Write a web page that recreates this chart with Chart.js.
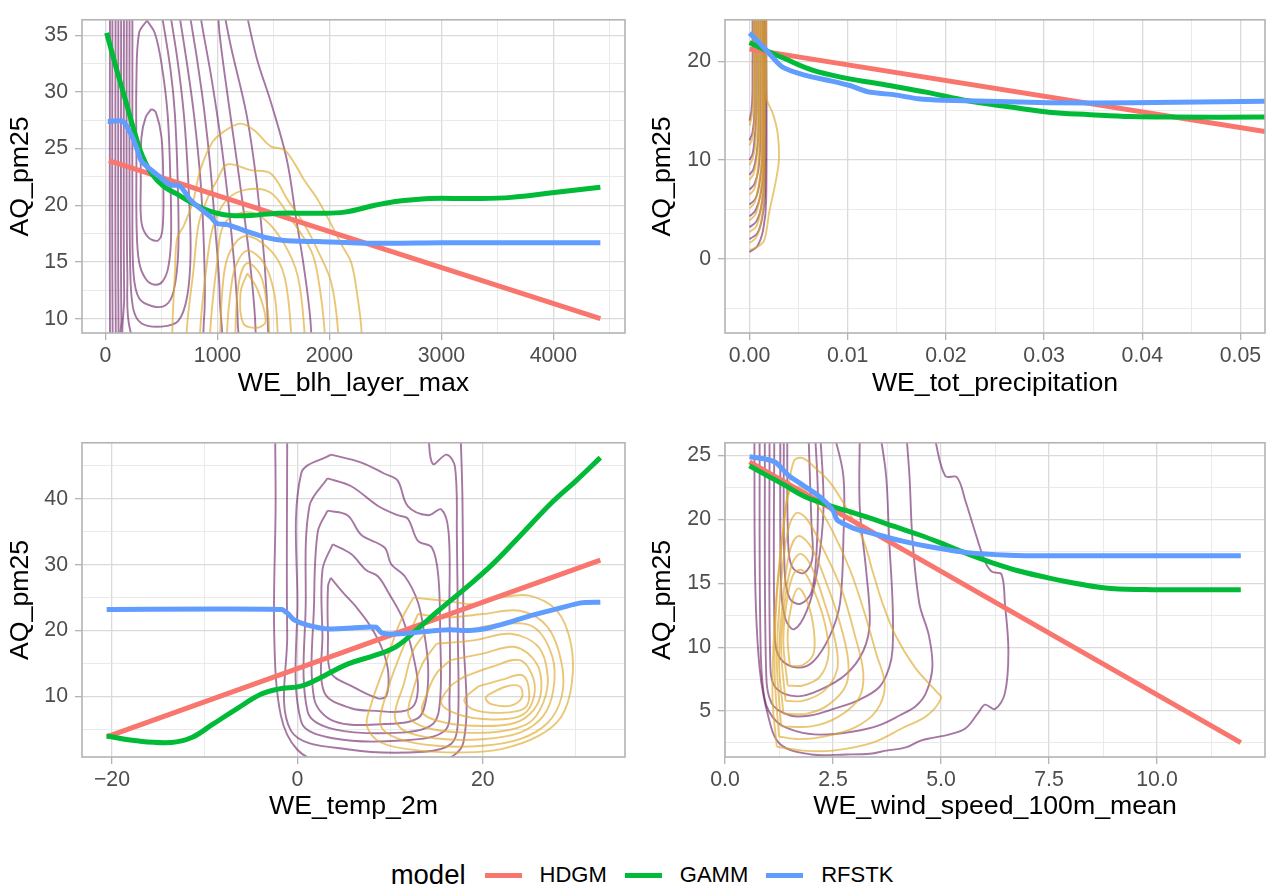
<!DOCTYPE html>
<html>
<head>
<meta charset="utf-8">
<script src="https://cdn.jsdelivr.net/npm/chart.js@4.4.1/dist/chart.umd.min.js"></script>
<style>
  body { margin: 0; background: #fff; width: 1284px; height: 892px; position: relative; overflow: hidden;
         font-family: "Liberation Sans", Arial, sans-serif; }
  .panel { position: absolute; }
  #legend { position: absolute; left: 0; top: 855px; width: 1284px; height: 40px;
            display: flex; justify-content: center; align-items: center; }
  #legend .ltitle { font-size: 27.5px; color: #000; margin-right: 19px; }
  #legend .key { width: 37px; height: 5px; display: inline-block; }
  #legend .lab { font-size: 22px; color: #000; margin: 0 18px 0 18px; }
</style>
</head>
<body>
<div class="panel" style="left:0;top:0"><canvas id="blh" width="642" height="420"></canvas></div>
<div class="panel" style="left:642px;top:0"><canvas id="precip" width="642" height="420"></canvas></div>
<div class="panel" style="left:0;top:423px"><canvas id="temp" width="642" height="420"></canvas></div>
<div class="panel" style="left:642px;top:423px"><canvas id="wind" width="642" height="420"></canvas></div>
<div id="legend">
  <span class="ltitle">model</span>
  <span class="key" style="background:#F8766D"></span><span class="lab">HDGM</span>
  <span class="key" style="background:#00BA38"></span><span class="lab">GAMM</span>
  <span class="key" style="background:#619CFF"></span><span class="lab" style="margin-right:0">RFSTK</span>
</div>
<script>
const FONT = '"Liberation Sans", Arial, sans-serif';
const PURPLE = "rgba(100, 20, 95, 0.58)";
const GOLD = "rgba(222, 168, 40, 0.64)";

// ---- panel 1: WE_blh_layer_max ----
const blhXTicks = [0, 1000, 2000, 3000, 4000];
const blhXMinor = [500, 1500, 2500, 3500, 4500];
const blhXLabels = ["0", "1000", "2000", "3000", "4000"];
const blhYTicks = [10, 15, 20, 25, 30, 35];
const blhYMinor = [12.5, 17.5, 22.5, 27.5, 32.5];
const blhYLabels = ["10", "15", "20", "25", "30", "35"];
const blhHDGM = [[30, 23.95], [4420, 10.0]];
const blhGAMM = [[10, 35.2], [96, 32.1], [186, 29], [276, 25.9], [336, 24.2], [411, 22.8], [516, 21.7], [636, 21],
  [756, 20.3], [876, 19.7], [996, 19.3], [1116, 19.1], [1296, 19.1], [1536, 19.3], [1896, 19.3], [2136, 19.4],
  [2406, 20], [2566, 20.3], [2894, 20.6], [3259, 20.6], [3624, 20.7], [3989, 21.1], [4420, 21.6]];
const blhRFSTK = [[20, 27.4], [156, 27.4], [246, 25.9], [276, 25.1], [321, 23.9], [396, 23.2], [486, 22.5],
  [576, 21.8], [666, 21.7], [756, 20.5], [846, 19.7], [936, 19.0], [996, 18.4], [1086, 18.3], [1176, 18.0],
  [1296, 17.6], [1416, 17.2], [1596, 16.9], [1896, 16.8], [2376, 16.65], [3000, 16.7], [4420, 16.7]];
const blhPurple = [
  [[411, 28.5], [360, 27.8], [321, 26], [315, 22], [321, 18.5], [380, 17.2], [470, 16.9], [510, 18], [516, 22], [500, 26], [450, 28.2], [411, 28.5]],
  [[370, 36.3], [300, 35.2], [276, 31], [276, 24], [278, 18], [300, 15], [360, 13.5], [440, 13], [510, 13.3], [560, 14.5], [585, 17], [580, 22], [555, 28], [500, 32.5], [440, 35.2], [370, 36.3]],
  [[240, 38], [240, 30], [240, 20], [250, 14], [300, 11.8], [420, 11.1], [540, 11.2], [610, 12.5], [650, 16], [645, 22], [620, 28], [580, 32], [492, 37.5]],
  [[215, 38], [214, 25], [220, 15], [245, 11], [320, 9.6], [500, 9.3], [650, 9.8], [730, 12], [760, 16], [740, 22], [700, 28], [640, 33], [560, 38]],
  [[190, 38], [188, 25], [195, 14], [220, 9], [400, 6], [800, 6], [880, 10], [880, 16], [850, 22], [790, 28], [720, 33], [640, 38]],
  [[165, 38], [163, 25], [167, 12], [190, 7], [600, 4], [1000, 5], [1020, 12], [980, 18], [930, 24], [860, 30], [760, 36.4], [720, 38]],
  [[140, 38], [138, 20], [142, 10], [160, 6], [700, 3], [1150, 4], [1180, 10], [1120, 18], [1040, 25], [950, 31], [860, 36], [830, 38]],
  [[115, 38], [113, 20], [117, 8], [130, 5], [800, 2], [1320, 4], [1340, 9], [1290, 15], [1200, 22], [1100, 29], [1020, 35], [1000, 38]],
  [[90, 38], [88, 20], [92, 8], [100, 4], [900, 1], [1450, 4], [1452, 9], [1420, 15], [1350, 22], [1260, 28], [1120, 34], [1040, 38]],
  [[62, 38], [60, 20], [64, 8], [70, 3], [1000, 0], [1830, 4], [1836, 9], [1780, 14], [1700, 19], [1620, 24], [1480, 29], [1350, 33], [1236, 38]],
  [[40, 38], [38, 20], [40, 8], [45, 2], [60, 0]]
];
const blhGold = [
  [[1266, 14], [1356, 12.6], [1431, 9.8], [1356, 9.2], [1230, 9.6], [1206, 12.3], [1266, 14]],
  [[1161, 5], [1161, 9], [1191, 13.2], [1266, 14.9], [1386, 13.8], [1446, 10.9], [1461, 9], [1465, 5]],
  [[1086, 5], [1086, 9], [1116, 12.3], [1161, 14.6], [1266, 16], [1416, 14.9], [1506, 12.3], [1536, 9], [1540, 5]],
  [[1026, 5], [1026, 9], [1056, 13.8], [1116, 16], [1251, 17.3], [1476, 16], [1596, 13.8], [1656, 9], [1660, 5]],
  [[936, 5], [936, 9], [996, 14.9], [1056, 18.3], [1236, 19.4], [1416, 18.8], [1596, 16.6], [1716, 13.8], [1776, 9], [1780, 5]],
  [[846, 5], [846, 9], [906, 14.9], [966, 18.3], [1086, 20.5], [1266, 21.4], [1476, 21.1], [1656, 18.8], [1836, 16], [1896, 13.8], [1956, 9], [1960, 5]],
  [[726, 5], [726, 9], [786, 14.3], [831, 18.3], [906, 20.5], [996, 22.2], [1086, 23.6], [1296, 23.1], [1476, 22.8], [1626, 20.5], [1776, 18.3], [1896, 16], [2016, 13.2], [2076, 9], [2080, 5]],
  [[590, 5], [600, 10], [620, 14], [640, 17.1], [700, 18.2], [786, 20.5], [846, 23.1], [950, 25.5], [1056, 26.5], [1206, 27.2], [1330, 26.6], [1476, 25.2], [1596, 24.9], [1700, 23.5], [1776, 22.2], [1896, 20.5], [2016, 18.3], [2110, 16.5], [2196, 14.9], [2250, 12], [2286, 9], [2290, 5]]
];

// ---- panel 2: WE_tot_precipitation ----
const precipXTicks = [0, 0.01, 0.02, 0.03, 0.04, 0.05];
const precipXMinor = [0.005, 0.015, 0.025, 0.035, 0.045];
const precipXLabels = ["0.00", "0.01", "0.02", "0.03", "0.04", "0.05"];
const precipYTicks = [0, 10, 20];
const precipYMinor = [-5, 5, 15];
const precipYLabels = ["0", "10", "20"];
const precipHDGM = [[0, 21.23], [0.0525, 12.9]];
const precipGAMM = [[0, 21.9], [0.00145, 21.2], [0.0035, 20.3], [0.0064, 19.1], [0.0098, 18.3], [0.0139, 17.6],
  [0.0181, 16.85], [0.0222, 16.0], [0.0264, 15.4], [0.0305, 14.85], [0.0347, 14.6], [0.0389, 14.4], [0.043, 14.35], [0.0525, 14.35]];
const precipRFSTK = [[0, 22.86], [0.00145, 21.4], [0.0033, 19.45], [0.0056, 18.6], [0.0081, 18.05], [0.0102, 17.55],
  [0.0121, 16.9], [0.0148, 16.6], [0.0172, 16.2], [0.0197, 16.05], [0.0243, 15.95], [0.0305, 15.8], [0.0389, 15.8], [0.0525, 15.95]];
const precipPurple = [
  [[0, 0.7], [0.0008, 1.3], [0.0014, 3], [0.0017, 6], [0.0017, 26]],
  [[0, 2.0], [0.0008, 2.6], [0.0013, 4.2], [0.0016, 7], [0.0016, 26]],
  [[0, 3.2], [0.0007, 3.8], [0.0012, 5.3], [0.0015, 8], [0.0015, 26]],
  [[0, 4.3], [0.0006, 4.9], [0.0011, 6.4], [0.0014, 9], [0.0014, 26]],
  [[0, 5.5], [0.0006, 6.1], [0.001, 7.6], [0.0013, 10.5], [0.0013, 26]],
  [[0, 7], [0.0005, 7.6], [0.0009, 9], [0.0011, 12], [0.0011, 26]],
  [[0, 8.5], [0.0004, 9.1], [0.0007, 10.5], [0.0009, 13], [0.0009, 26]],
  [[0, 10], [0.0003, 10.6], [0.0005, 12], [0.0007, 15], [0.0007, 26]],
  [[0, 12], [0.0003, 12.8], [0.0005, 15], [0.0005, 26]],
  [[0, 14], [0.0002, 15], [0.0003, 17], [0.0003, 26]]
];
const precipGold = [
  [[0, 0.9], [0.0008, 1.2], [0.0015, 1.9], [0.002, 4.7], [0.0027, 8], [0.003, 10.2], [0.00285, 12.8], [0.00234, 14.8], [0.0018, 16], [0.0017, 18], [0.0017, 26]],
  [[0, 1.6], [0.0007, 2.2], [0.0012, 3.8], [0.0015, 7], [0.0016, 26]],
  [[0, 2.7], [0.0007, 3.3], [0.0011, 4.8], [0.0014, 8], [0.00145, 26]],
  [[0, 3.9], [0.0006, 4.5], [0.001, 6], [0.0013, 9], [0.00135, 26]],
  [[0, 5.1], [0.0005, 5.7], [0.0009, 7.2], [0.0012, 10], [0.0012, 26]],
  [[0, 6.5], [0.0005, 7.1], [0.0008, 8.6], [0.001, 11.5], [0.00105, 26]],
  [[0, 8], [0.0004, 8.6], [0.0007, 10], [0.0009, 13], [0.0009, 26]],
  [[0, 9.5], [0.0003, 10.1], [0.0006, 11.5], [0.0007, 14], [0.00075, 26]],
  [[0, 11.5], [0.0003, 12.2], [0.0005, 14], [0.0006, 26]],
  [[0, 13.5], [0.0002, 14.3], [0.0004, 16], [0.0004, 26]]
];

// ---- panel 3: WE_temp_2m ----
const tempXTicks = [-20, 0, 20];
const tempXMinor = [-10, 10, 30];
const tempXLabels = ["\u221220", "0", "20"];
const tempYTicks = [10, 20, 30, 40];
const tempYMinor = [5, 15, 25, 35, 45];
const tempYLabels = ["10", "20", "30", "40"];
const tempHDGM = [[-20.57, 3.85], [32.67, 30.7]];
const tempGAMM = [[-20.57, 4.0], [-17.6, 3.3], [-13.6, 3.0], [-11.4, 3.75], [-9.2, 5.7], [-6.5, 8.15], [-3.9, 10.35],
  [-2.1, 11.1], [0.5, 11.6], [2.7, 13.0], [5.4, 14.9], [8.5, 16.3], [10.7, 17.6], [13, 20.3], [15.2, 23.0],
  [18.1, 26.4], [21, 30], [23.9, 34.2], [27.5, 39.5], [30.1, 42.8], [32.67, 46.25]];
const tempRFSTK = [[-20.57, 23.2], [-1.7, 23.2], [-1, 22.55], [-0.35, 21.6], [1, 20.85], [3.2, 20.25], [5.4, 20.35],
  [8.5, 20.5], [9.1, 19.6], [11.1, 19.5], [14.2, 19.9], [16.4, 20.1], [18.6, 20.0], [20.4, 20.3], [23, 21.3],
  [25.25, 22.3], [28.3, 23.4], [30.55, 24.2], [32.67, 24.3]];
const tempPurple = [
  [[3.6, 28], [4.9, 25.8], [6.5, 23.3], [8, 20.4], [9.2, 17], [9.8, 13.6], [9.6, 10.1], [8.7, 9.7], [5.8, 11.6], [3.6, 13.6], [3.3, 19.4], [3.3, 26.7], [3.6, 28]],
  [[3.8, 33.1], [5.8, 31.6], [7.4, 29.2], [8.7, 28.2], [9.8, 25.8], [11.2, 22.3], [11.9, 19.4], [12.6, 15.5], [13, 11.6], [12.6, 8.7], [11.2, 7.7], [8.5, 7.8], [5.8, 8.2], [2.9, 10.6], [2.7, 19.4], [2.7, 29.2], [3.8, 33.1]],
  [[3.25, 38.2], [5.4, 37.5], [6.9, 34.5], [9.4, 32.6], [10.1, 30.1], [11.6, 28.2], [13, 24.3], [13.7, 19.4], [14.1, 14.5], [13.9, 9.7], [13, 6.7], [9.4, 5.8], [4, 6.2], [1.8, 9.7], [1.8, 24.3], [2.2, 35], [3.25, 38.2]],
  [[3.25, 43.1], [5.8, 41.9], [8.7, 38.9], [10.8, 37.5], [11.9, 37], [13, 33.6], [14.5, 32.6], [15.2, 28.2], [15.4, 19.4], [15.4, 9.7], [14.6, 5.8], [11.2, 4.5], [4, 5], [1.1, 7.7], [0.9, 24.3], [1.3, 38.9], [3.25, 43.1]],
  [[3.6, 46.7], [6.9, 45.5], [9.4, 43.8], [10.8, 42.8], [11.9, 38.9], [14.1, 37.5], [15.5, 38.4], [16.3, 35], [16.4, 24.3], [16.4, 9.7], [15.9, 4.8], [11.2, 3.3], [4, 3.6], [0.4, 6.2], [0, 24.3], [0.4, 43.8], [3.6, 46.7]],
  [[-1.1, 50], [-1.1, 19.4], [-0.7, 4.8], [5.8, 1.9], [13.7, 1.6], [16.6, 2.8], [17.3, 5.8], [17.3, 19.4], [17.2, 34], [17, 44.8], [16.1, 46.7], [14.6, 45.3], [14.1, 50]],
  [[-2.4, 50], [-2.35, 38.9], [-2.5, 19.4], [-1.8, 7.2], [0, 1.9], [3, 0], [15, 0], [17.9, 3], [17.9, 20], [17.8, 40], [17.6, 50]]
];
const tempGold = [
  [[12.5, 25], [16, 24.5], [19, 24], [22, 25], [25, 25.3], [28, 23], [29.5, 18], [29.6, 12], [28.5, 7], [26, 4], [22, 2], [18, 1.5], [13, 1.8], [9, 3], [7.5, 5.5], [8, 9], [9.5, 15], [11, 21], [12.5, 25]],
  [[13, 22.5], [16, 22], [20, 22.5], [24, 23], [27, 20.5], [28.5, 15], [28.5, 10], [27, 6], [24, 3.5], [20, 2.5], [15, 2.5], [11, 3.5], [9, 5.5], [9.5, 10], [11, 16], [13, 22.5]],
  [[14, 20], [18, 20], [22, 21], [25.5, 20.5], [27.5, 16], [27.6, 11], [26.5, 7], [24, 4.5], [20, 3.5], [15, 3.6], [11.5, 4.8], [10.5, 7], [11.5, 12], [12.5, 17], [14, 20]],
  [[15, 18], [19, 18.5], [23, 19.5], [26, 17.5], [27, 13], [26.5, 9], [25, 6], [22, 4.7], [18, 4.5], [14, 5.2], [12, 7], [12.5, 11], [13.5, 15], [15, 18]],
  [[16.5, 15.5], [20, 16.5], [23.5, 17.5], [25.8, 15], [26.3, 11], [25.5, 8], [23.5, 6], [20, 5.5], [16, 6], [13.5, 7.5], [14, 10.5], [15, 13.5], [16.5, 15.5]],
  [[18, 13], [21, 14.5], [24, 15.5], [25.5, 12.5], [25.3, 9], [24, 7], [21, 6.5], [17.5, 7.2], [15.5, 9], [16.5, 11.5], [18, 13]],
  [[19.5, 11.5], [22, 12.5], [24.3, 13.2], [25, 10.5], [24.5, 8.2], [22, 7.5], [19, 8], [18, 9.5], [19.5, 11.5]],
  [[20.5, 10.2], [22.5, 11.5], [24, 11.5], [24.2, 9.8], [23, 8.6], [21, 8.8], [20.3, 9.6], [20.5, 10.2]]
];

// ---- panel 4: WE_wind_speed_100m_mean ----
const windXTicks = [0, 2.5, 5, 7.5, 10];
const windXMinor = [1.25, 3.75, 6.25, 8.75, 11.25];
const windXLabels = ["0.0", "2.5", "5.0", "7.5", "10.0"];
const windYTicks = [5, 10, 15, 20, 25];
const windYMinor = [2.5, 7.5, 12.5, 17.5, 22.5];
const windYLabels = ["5", "10", "15", "20", "25"];
const windHDGM = [[0.567, 24.5], [11.94, 2.52]];
const windGAMM = [[0.567, 24.2], [0.9, 23.57], [1.37, 22.7], [1.84, 21.8], [2.32, 21.2], [2.79, 20.7], [3.36, 20.1],
  [3.92, 19.45], [4.49, 18.8], [4.96, 18.2], [5.62, 17.3], [6.19, 16.6], [6.76, 16.0], [7.51, 15.4], [8.27, 14.9],
  [8.93, 14.6], [9.88, 14.5], [11.94, 14.5]];
const windRFSTK = [[0.567, 24.9], [0.9, 24.75], [1.18, 24.45], [1.47, 23.45], [1.84, 22.6], [2.22, 21.7], [2.5, 20.7],
  [2.6, 19.95], [2.98, 19.3], [3.54, 18.8], [4.11, 18.3], [4.68, 17.9], [5.62, 17.4], [6.57, 17.2], [7.51, 17.15],
  [9.4, 17.15], [11.94, 17.15]];
const windPurple = [
  [[0.68, 27], [0.7, 15], [0.8, 8.4], [1.0, 4.6], [1.28, 2.4], [2.0, 1.6], [2.8, 1.6], [3.35, 1.65], [3.73, 1.9], [4.19, 2.15], [4.5, 2.65], [4.8, 2.9], [5.18, 3.15], [5.57, 3.65], [5.87, 4.9], [6.02, 5.5], [6.25, 5.15], [6.48, 6.4], [6.56, 9.7], [6.48, 13.4], [6.4, 15.7], [6.18, 15.9], [6.02, 16.7], [5.8, 18.9], [5.57, 21.4], [5.37, 23.3], [5.1, 23.4], [4.88, 26], [4.85, 27]],
  [[0.8, 27], [0.82, 10.9], [0.92, 5.9], [1.2, 4.15], [1.67, 3.4], [2.2, 3.15], [2.97, 3.4], [3.58, 3.9], [4.04, 4.65], [4.42, 5.4], [4.65, 6.4], [4.8, 8.4], [4.72, 10.9], [4.5, 13.4], [4.34, 18.4], [4.27, 23.4], [4.19, 27]],
  [[0.92, 27], [0.95, 8.4], [1.08, 5.6], [1.51, 4.65], [1.97, 4.65], [2.5, 5.15], [3.12, 5.9], [3.58, 6.9], [3.8, 8.4], [3.88, 9.9], [3.88, 13.4], [3.8, 18.4], [3.73, 23.4], [3.58, 27]],
  [[1.03, 27], [1.05, 8.4], [1.18, 6.8], [1.67, 6.15], [2.2, 6.65], [2.81, 7.9], [3.2, 9.7], [3.35, 11.9], [3.27, 15.9], [3.12, 20.9], [3.12, 27]],
  [[1.14, 27], [1.15, 10.9], [1.28, 9.1], [1.67, 8.4], [2.05, 8.9], [2.43, 10.9], [2.66, 13.4], [2.74, 18.4], [2.74, 23.4], [2.5, 27]],
  [[1.28, 27], [1.3, 14.7], [1.4, 12.2], [1.6, 11.4], [1.9, 12.9], [2.13, 15.9], [2.28, 20.9], [2.2, 27]],
  [[1.36, 27], [1.38, 16], [1.5, 13.8], [1.75, 13.4], [2.0, 14.3], [2.12, 17.5], [2.15, 22], [2.08, 27]],
  [[1.44, 27], [1.46, 18.4], [1.55, 16.3], [1.82, 15.8], [2.02, 16.9], [2.0, 19.7], [1.93, 27]]
];
const windGold = [
  [[1.2, 2.2], [1.1, 6], [1.15, 12], [1.3, 18], [1.45, 22], [1.6, 24.6], [1.8, 24.8], [2.1, 24], [2.43, 22.9], [2.81, 20.9], [3.2, 18.4], [3.42, 15.9], [3.65, 13.4], [3.95, 10.9], [4.4, 8.4], [4.9, 6.5], [5.0, 6.0], [4.68, 4.65], [4.1, 3.65], [3.4, 2.5], [2.5, 1.9], [1.8, 1.9], [1.2, 2.2]],
  [[1.25, 3], [1.15, 8], [1.2, 14], [1.35, 19], [1.5, 22.3], [1.75, 22.5], [2.1, 21.3], [2.5, 19], [2.9, 16], [3.2, 13], [3.5, 9.5], [3.7, 7], [3.5, 5], [3, 3.7], [2.3, 3], [1.7, 2.8], [1.25, 3]],
  [[1.3, 3.8], [1.2, 9], [1.3, 15], [1.45, 19], [1.65, 20.5], [1.9, 20], [2.3, 17.5], [2.7, 14.5], [3, 11], [3.2, 8], [3.1, 6], [2.6, 4.5], [2, 3.8], [1.3, 3.8]],
  [[1.35, 4.8], [1.25, 9], [1.35, 14], [1.5, 17.5], [1.7, 18.7], [2.0, 17.8], [2.35, 15], [2.65, 12], [2.85, 9], [2.8, 7], [2.4, 5.5], [1.9, 4.8], [1.35, 4.8]],
  [[1.4, 5.8], [1.3, 10], [1.4, 14], [1.55, 16.5], [1.75, 17.3], [2.0, 16.3], [2.3, 13.5], [2.55, 10.5], [2.6, 8.3], [2.3, 6.6], [1.8, 5.8], [1.4, 5.8]],
  [[1.45, 7], [1.35, 10.5], [1.45, 14], [1.6, 15.8], [1.8, 16], [2.05, 14.5], [2.3, 12], [2.4, 9.5], [2.2, 7.7], [1.8, 7], [1.45, 7]],
  [[1.5, 8.5], [1.45, 11], [1.55, 13.5], [1.7, 14.6], [1.9, 13.6], [2.05, 11.5], [2.05, 9.5], [1.8, 8.6], [1.5, 8.5]]
];

// ---- helpers ----
const toPts = (arr) => arr.map(([x, y]) => ({ x, y }));

function contourSets(list, color, order) {
  return list.map((c) => ({
    data: toPts(c), borderColor: color, borderWidth: 1.9, showLine: true,
    pointRadius: 0, tension: 0.35, order: order, clip: 0,
  }));
}

function modelSets(hdgm, gamm, rfstk) {
  return [
    { data: toPts(hdgm), borderColor: "#F8766D", borderWidth: 5, showLine: true, pointRadius: 0, tension: 0, order: 3, clip: 0 },
    { data: toPts(gamm), borderColor: "#00BA38", borderWidth: 5, showLine: true, pointRadius: 0, tension: 0.4, order: 2, clip: 0 },
    { data: toPts(rfstk), borderColor: "#619CFF", borderWidth: 5, showLine: true, pointRadius: 0, tension: 0.2, order: 1, clip: 0 },
  ];
}

function axis(pos, lim, majors, minors, labels, title, size) {
  const isMajor = (c) => c.tick && majors.indexOf(c.tick.value) >= 0;
  return {
    type: "linear", position: pos, min: lim[0], max: lim[1], bounds: "data",
    afterBuildTicks: (s) => {
      s.ticks = majors.concat(minors).sort((a, b) => a - b).map((v) => ({ value: v }));
    },
    afterFit: (s) => {
      if (pos === "left") s.width = size; else s.height = size;
    },
    ticks: {
      autoSkip: false, maxRotation: 0, minRotation: 0, color: "#4D4D4D",
      font: { family: FONT, size: 21.3 }, padding: pos === "left" ? 7 : 3,
      callback: (v) => { const i = majors.indexOf(v); return i < 0 ? "" : labels[i]; },
    },
    grid: {
      color: (c) => (isMajor(c) ? "#DADADA" : "#E4E4E4"),
      lineWidth: (c) => (isMajor(c) ? 1.3 : 0.8),
      tickLength: 7,
      tickColor: (c) => (isMajor(c) ? "#B3B3B3" : "rgba(0,0,0,0)"),
      tickWidth: 1.3,
    },
    border: { display: false },
    title: {
      display: true, text: title, color: "#000", font: { family: FONT, size: 26.7 },
      padding: pos === "left" ? { top: 5, bottom: 0 } : { top: 0, bottom: 20 },
    },
  };
}

const panelBorder = {
  id: "panelBorder",
  afterDatasetsDraw(chart) {
    const { ctx, chartArea: a } = chart;
    ctx.save();
    ctx.strokeStyle = "#B3B3B3";
    ctx.lineWidth = 1.6;
    ctx.strokeRect(a.left, a.top, a.right - a.left, a.bottom - a.top);
    ctx.restore();
  },
};

function drawPanel(id, pad, yWidth, xHeight, xAx, yAx, purple, gold, models) {
  new Chart(document.getElementById(id), {
    type: "scatter",
    data: { datasets: models.concat(contourSets(gold, GOLD, 8), contourSets(purple, PURPLE, 9)) },
    options: {
      responsive: false, animation: false, events: [],
      layout: { padding: { top: pad.top, right: pad.right, left: 0, bottom: 0 } },
      elements: { line: { capBezierPoints: false }, point: { radius: 0 } },
      plugins: { legend: { display: false }, tooltip: { enabled: false } },
      scales: {
        x: axis("bottom", xAx.lim, xAx.majors, xAx.minors, xAx.labels, xAx.title, xHeight),
        y: axis("left", yAx.lim, yAx.majors, yAx.minors, yAx.labels, yAx.title, yWidth),
      },
    },
    plugins: [panelBorder],
  });
}

drawPanel("blh", { top: 7, right: 17 }, 82, 87,
  { lim: [-210, 4640], majors: blhXTicks, minors: blhXMinor, labels: blhXLabels, title: "WE_blh_layer_max" },
  { lim: [8.74, 36.36], majors: blhYTicks, minors: blhYMinor, labels: blhYLabels, title: "AQ_pm25" },
  blhPurple, blhGold, modelSets(blhHDGM, blhGAMM, blhRFSTK));

drawPanel("precip", { top: 7, right: 19 }, 83, 87,
  { lim: [-0.0025, 0.0525], majors: precipXTicks, minors: precipXMinor, labels: precipXLabels, title: "WE_tot_precipitation" },
  { lim: [-7.5, 24.2], majors: precipYTicks, minors: precipYMinor, labels: precipYLabels, title: "AQ_pm25" },
  precipPurple, precipGold, modelSets(precipHDGM, precipGAMM, precipRFSTK));

drawPanel("temp", { top: 7, right: 17 }, 82, 86,
  { lim: [-23.23, 35.33], majors: tempXTicks, minors: tempXMinor, labels: tempXLabels, title: "WE_temp_2m" },
  { lim: [0.8, 48.5], majors: tempYTicks, minors: tempYMinor, labels: tempYLabels, title: "AQ_pm25" },
  tempPurple, tempGold, modelSets(tempHDGM, tempGAMM, tempRFSTK));

drawPanel("wind", { top: 7, right: 19 }, 83, 86,
  { lim: [0, 12.5], majors: windXTicks, minors: windXMinor, labels: windXLabels, title: "WE_wind_speed_100m_mean" },
  { lim: [1.4, 26.0], majors: windYTicks, minors: windYMinor, labels: windYLabels, title: "AQ_pm25" },
  windPurple, windGold, modelSets(windHDGM, windGAMM, windRFSTK));
</script>
</body>
</html>
